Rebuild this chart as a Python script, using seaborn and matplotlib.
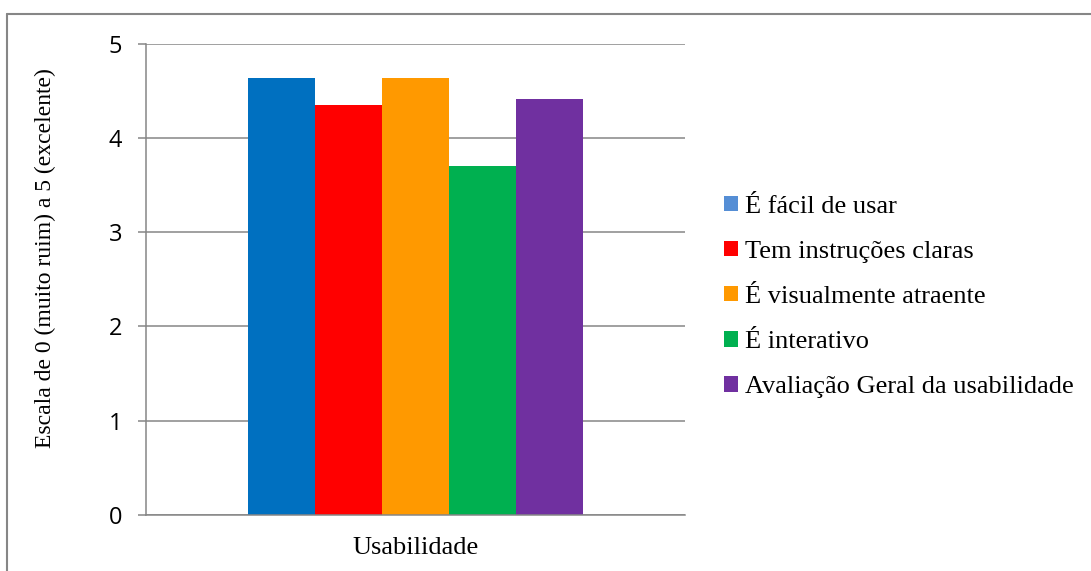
import matplotlib
matplotlib.use("Agg")
import matplotlib.pyplot as plt
from matplotlib.patches import Patch
from matplotlib.lines import Line2D
import seaborn as sns
import pandas as pd

# Survey results: usability criteria, scale 0 (very poor) to 5 (excellent)
category = ["Usabilidade"]
criteria = [
    "É fácil de usar",
    "Tem instruções claras",
    "É visualmente atraente",
    "É interativo",
    "Avaliação Geral da usabilidade",
]
scores = [4.64, 4.35, 4.64, 3.70, 4.41]
bar_colors = ["#0070C0", "#FF0000", "#FF9900", "#00B050", "#7030A0"]
legend_colors = ["#558ED5", "#FF0000", "#FF9900", "#00B050", "#7030A0"]
y_ticks = [0, 1, 2, 3, 4, 5]

df = pd.DataFrame({
    "grupo": category * len(criteria),
    "criterio": criteria,
    "nota": scores,
})

sns.set_theme(style="white")
plt.rcParams["font.family"] = ["Liberation Serif", "DejaVu Serif"]
plt.rcParams["text.color"] = "black"
plt.rcParams["axes.labelcolor"] = "black"
plt.rcParams["xtick.color"] = "black"
plt.rcParams["ytick.color"] = "black"

grey = "#868686"
fig = plt.figure(figsize=(10.91, 5.71), dpi=100)
ax = fig.add_axes([146 / 1091, 1 - 515 / 571, (685 - 146) / 1091, (515 - 43.7) / 571])

sns.barplot(
    data=df, x="grupo", y="nota", hue="criterio",
    hue_order=criteria, palette=bar_colors, width=0.623,
    saturation=1, dodge=True, ax=ax, legend=False,
)
for p in ax.patches:
    p.set_edgecolor("none")
    p.set_linewidth(0)

ax.set_xlim(-0.5, 0.5)
ax.set_ylim(0, 5)
ax.set_yticks(y_ticks)
ax.set_yticklabels([str(t) for t in y_ticks], family=["Open Sans", "DejaVu Sans"], fontsize=17)
ax.yaxis.grid(True, color=grey, linewidth=1.1)
ax.set_axisbelow(True)
ax.tick_params(axis="y", length=6, width=1.1, color=grey, labelcolor="black", pad=11, left=True)
ax.tick_params(axis="x", length=0, pad=16, labelsize=19, labelcolor="black")
for lab in ax.get_xticklabels():
    lab.set_family(["Liberation Serif", "DejaVu Serif"])
ax.set_xlabel("")
ax.set_ylabel("Escala de 0 (muito ruim) a 5 (excelente)", fontsize=17, color="black")
ax.yaxis.set_label_coords(-0.167, 0.545)

for side in ["top", "right"]:
    ax.spines[side].set_visible(False)
ax.spines["left"].set_color(grey)
ax.spines["left"].set_linewidth(1.1)
ax.spines["bottom"].set_color(grey)
ax.spines["bottom"].set_linewidth(1.1)

handles = [Patch(facecolor=c, edgecolor="none") for c in legend_colors]
fig.legend(
    handles, criteria, loc="center left",
    bbox_to_anchor=(724 / 1091, 1 - 297 / 571),
    frameon=False, fontsize=19, handlelength=0.53, handleheight=0.53,
    handletextpad=0.25, labelspacing=0.87, borderaxespad=0, borderpad=0,
)

# Outer chart frame (left and top edges)
fig.add_artist(Line2D([7 / 1091, 7 / 1091], [0, 1 - 14 / 571], color=grey,
                      linewidth=1.5, transform=fig.transFigure))
fig.add_artist(Line2D([7 / 1091, 1], [1 - 14 / 571, 1 - 14 / 571], color=grey,
                      linewidth=1.5, transform=fig.transFigure))

fig.savefig("out.png", dpi=100)
